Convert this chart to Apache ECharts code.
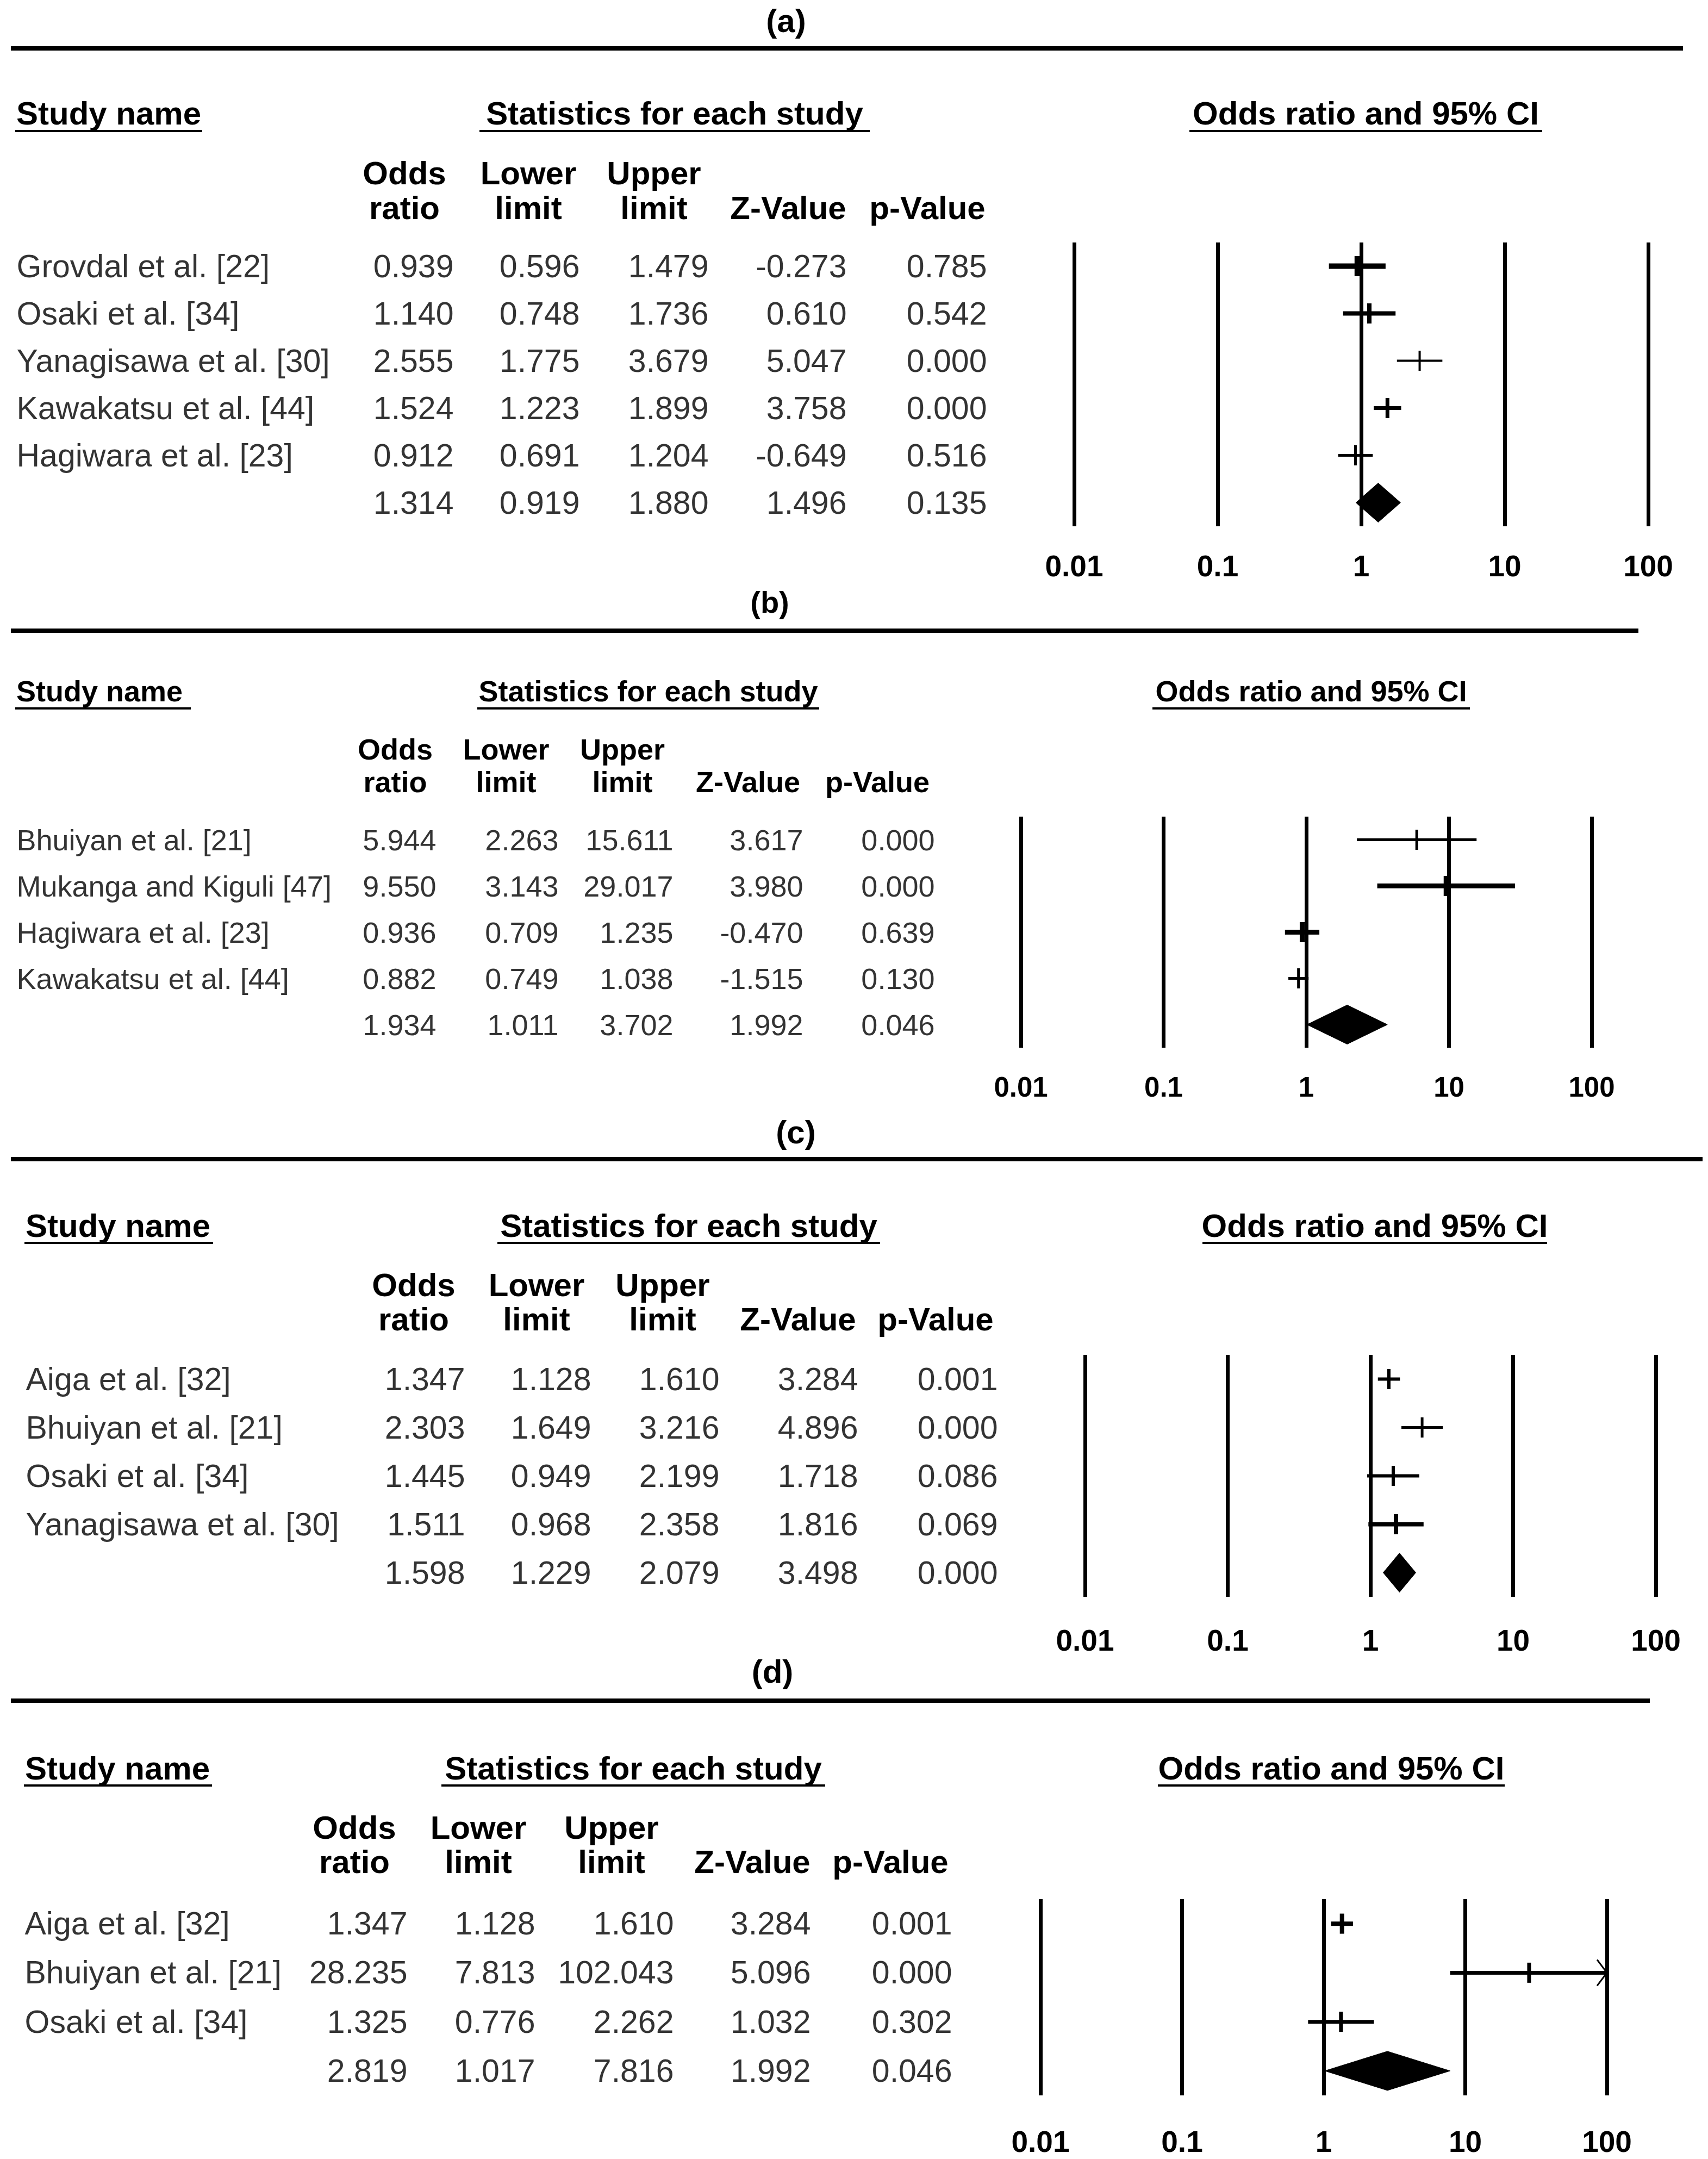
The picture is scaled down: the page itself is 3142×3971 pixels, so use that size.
<!DOCTYPE html>
<html>
<head>
<meta charset="utf-8">
<script src="https://cdn.jsdelivr.net/npm/echarts@6/dist/echarts.min.js"></script>
<style>
html,body{margin:0;padding:0;background:#ffffff;}
#chart{width:3142px;height:3971px;}
</style>
</head>
<body>
<div id="chart"></div>
<script>
// ================= DATA =================
const tickLabels = ['0.01', '0.1', '1', '10', '100'];
const panelTitles = ['(a)', '(b)', '(c)', '(d)'];
const sectionLabels = ['Study name', 'Statistics for each study', 'Odds ratio and 95% CI'];
const headerTop = ['Odds', 'Lower', 'Upper', '', ''];
const headerBottom = ['ratio', 'limit', 'limit', 'Z-Value', 'p-Value'];

// (a)
const studiesA = ['Grovdal et al. [22]', 'Osaki et al. [34]', 'Yanagisawa et al. [30]', 'Kawakatsu et al. [44]', 'Hagiwara et al. [23]', ''];
const oddsA  = [0.939, 1.140, 2.555, 1.524, 0.912, 1.314];
const lowerA = [0.596, 0.748, 1.775, 1.223, 0.691, 0.919];
const upperA = [1.479, 1.736, 3.679, 1.899, 1.204, 1.880];
const zA     = [-0.273, 0.610, 5.047, 3.758, -0.649, 1.496];
const pA     = [0.785, 0.542, 0.000, 0.000, 0.516, 0.135];

// (b)
const studiesB = ['Bhuiyan et al. [21]', 'Mukanga and Kiguli [47]', 'Hagiwara et al. [23]', 'Kawakatsu et al. [44]', ''];
const oddsB  = [5.944, 9.550, 0.936, 0.882, 1.934];
const lowerB = [2.263, 3.143, 0.709, 0.749, 1.011];
const upperB = [15.611, 29.017, 1.235, 1.038, 3.702];
const zB     = [3.617, 3.980, -0.470, -1.515, 1.992];
const pB     = [0.000, 0.000, 0.639, 0.130, 0.046];

// (c)
const studiesC = ['Aiga et al. [32]', 'Bhuiyan et al. [21]', 'Osaki et al. [34]', 'Yanagisawa et al. [30]', ''];
const oddsC  = [1.347, 2.303, 1.445, 1.511, 1.598];
const lowerC = [1.128, 1.649, 0.949, 0.968, 1.229];
const upperC = [1.610, 3.216, 2.199, 2.358, 2.079];
const zC     = [3.284, 4.896, 1.718, 1.816, 3.498];
const pC     = [0.001, 0.000, 0.086, 0.069, 0.000];

// (d)
const studiesD = ['Aiga et al. [32]', 'Bhuiyan et al. [21]', 'Osaki et al. [34]', ''];
const oddsD  = [1.347, 28.235, 1.325, 2.819];
const lowerD = [1.128, 7.813, 0.776, 1.017];
const upperD = [1.610, 102.043, 2.262, 7.816];
const zD     = [3.284, 5.096, 1.032, 1.992];
const pD     = [0.001, 0.000, 0.302, 0.046];

// ================= LAYOUT / STYLE =================
const FONT = "'Liberation Sans', Arial, Helvetica, sans-serif";
const W = 3142;
const TICK_H = 18.5;
const DIAMOND_H = 36;
const layout = [
  {title:[1446, 38], rule:[89, 3096], sec:[208, 241], sn:[28, 372], st:[882, 1600], ci:[2188, 2837],
   hdrY:[318, 382], hdrX:[744, 972, 1203, 1450, 1706], cols:[835, 1067, 1304, 1558, 1816], nameX:30,
   plot:[1976, 3032, 446, 968], margin:45, fs:59, fsB:60, fsAx:55, fsT:60, widths:[10, 8, 4, 7, 5]},
  {title:[1416, 1107], rule:[1160, 3014], sec:[1271, 1303], sn:[28, 351], st:[878, 1507], ci:[2120, 2704],
   hdrY:[1378, 1438], hdrX:[727, 931, 1145, 1376, 1614], cols:[803, 1028, 1239, 1478, 1720], nameX:30,
   plot:[1878, 2928, 1502, 1927], margin:47, fs:54, fsB:54, fsAx:51, fsT:56, widths:[5, 9, 9, 5]},
  {title:[1464, 2082], rule:[2132, 3132], sec:[2254, 2286], sn:[45, 392], st:[915, 1619], ci:[2212, 2846],
   hdrY:[2363, 2426], hdrX:[761, 987, 1219, 1468, 1721], cols:[856, 1088, 1324, 1579, 1836], nameX:47,
   plot:[1996, 3046, 2492, 2937], margin:52, fs:59, fsB:60, fsAx:55, fsT:60, widths:[6, 5, 6, 8]},
  {title:[1421, 3074], rule:[3128, 3035], sec:[3252, 3284], sn:[44, 390], st:[812, 1518], ci:[2130, 2768],
   hdrY:[3361, 3424], hdrX:[652, 880, 1125, 1384, 1638], cols:[750, 985, 1240, 1492, 1752], nameX:45,
   plot:[1914, 2956, 3493, 3854], margin:57, fs:59, fsB:60, fsAx:55, fsT:60, widths:[8, 7, 7]}
];

const panels = [
  {studies:studiesA, odds:oddsA, lower:lowerA, upper:upperA, z:zA, p:pA},
  {studies:studiesB, odds:oddsB, lower:lowerB, upper:upperB, z:zB, p:pB},
  {studies:studiesC, odds:oddsC, lower:lowerC, upper:upperC, z:zC, p:pC},
  {studies:studiesD, odds:oddsD, lower:lowerD, upper:upperD, z:zD, p:pD}
];

const AX_MIN = Number(tickLabels[0]);
const AX_MAX = Number(tickLabels[tickLabels.length - 1]);

// ================= BUILD OPTION =================
const grids = [], xAxes = [], yAxes = [], series = [], graphics = [];

function txt(text, x, y, size, bold, align) {
  return {type:'text', silent:true, style:{
    text:text, x:x, y:y, fill:'#000',
    font:(bold ? 'bold ' : '') + size + 'px ' + FONT,
    fontSize:size, fontWeight:bold ? 'bold' : 'normal', fontFamily:FONT,
    textAlign:align, align:align, textVerticalAlign:'middle', verticalAlign:'middle'
  }};
}
function hbar(x1, x2, y, h) {
  return {type:'rect', silent:true, shape:{x:x1, y:y - h / 2, width:x2 - x1, height:h}, style:{fill:'#000'}};
}

function makeRender(L, n) {
  return function (params, api) {
    const i = params.dataIndex;
    const row = api.value(3);
    const lo = api.value(0), hiRaw = api.value(1), est = api.value(2);
    const hi = Math.min(hiRaw, AX_MAX);
    const pL = api.coord([lo, row]);
    const pH = api.coord([hi, row]);
    const pE = api.coord([est, row]);
    const y = pE[1];
    if (i === n - 1) {
      return {type:'polygon', shape:{points:[[pL[0], y], [pE[0], y - DIAMOND_H], [pH[0], y], [pE[0], y + DIAMOND_H]]},
              style:{fill:'#000', stroke:'#000', lineWidth:1}};
    }
    const w = L.widths[i];
    const children = [
      {type:'line', shape:{x1:pL[0], y1:y, x2:pH[0], y2:y}, style:{stroke:'#000', lineWidth:w, lineCap:'butt'}},
      {type:'line', shape:{x1:pE[0], y1:y - TICK_H, x2:pE[0], y2:y + TICK_H}, style:{stroke:'#000', lineWidth:w, lineCap:'butt'}}
    ];
    if (hiRaw > AX_MAX) {
      children.push({type:'polyline', shape:{points:[[pH[0] - 18, y - 24], [pH[0], y], [pH[0] - 18, y + 24]]},
                     style:{stroke:'#000', lineWidth:3, fill:null}});
    }
    return {type:'group', children:children};
  };
}

panels.forEach(function (P, k) {
  const L = layout[k];
  const n = P.studies.length;
  const rows = P.studies.map(function (_, i) { return String(i); });
  const top = L.plot[2], height = L.plot[3] - L.plot[2];

  // table grid
  const gT = grids.length;
  grids.push({left:0, top:top, width:W, height:height, outerBoundsMode:'none', containLabel:false});
  xAxes.push({type:'value', gridIndex:gT, min:0, max:W, show:false});
  yAxes.push({type:'category', gridIndex:gT, data:rows, inverse:true, show:false});

  // plot grid
  const gP = grids.length;
  grids.push({left:L.plot[0], top:top, width:L.plot[1] - L.plot[0], height:height, outerBoundsMode:'none', containLabel:false});
  xAxes.push({
    type:'log', logBase:10, gridIndex:gP, min:AX_MIN, max:AX_MAX, splitNumber:4,
    axisLine:{show:false}, axisTick:{show:false},
    splitLine:{show:true, lineStyle:{color:'#000', width:7, type:'solid'}},
    axisLabel:{show:true, margin:L.margin, showMinLabel:true, showMaxLabel:true,
      color:'#000', fontFamily:FONT, fontWeight:'bold', fontSize:L.fsAx,
      formatter:function (v) { const idx = Math.round(Math.log10(v)) + 2; return tickLabels[idx] !== undefined ? tickLabels[idx] : ''; }}
  });
  yAxes.push({type:'category', gridIndex:gP, data:rows, inverse:true, show:false});

  const lblBase = {show:true, color:'#000', fontFamily:FONT, fontSize:L.fs, fontWeight:'normal'};

  // study names
  series.push({
    type:'scatter', xAxisIndex:gT, yAxisIndex:gT, symbolSize:1, silent:true,
    itemStyle:{color:'rgba(0,0,0,0)'},
    data:P.studies.map(function (s, i) { return {name:s, value:[L.nameX, i]}; }),
    label:Object.assign({position:'right', distance:0, formatter:'{b}'}, lblBase)
  });
  // numeric columns
  [P.odds, P.lower, P.upper, P.z, P.p].forEach(function (arr, c) {
    series.push({
      type:'scatter', xAxisIndex:gT, yAxisIndex:gT, symbolSize:1, silent:true,
      itemStyle:{color:'rgba(0,0,0,0)'},
      data:arr.map(function (v, i) { return {name:v.toFixed(3), value:[L.cols[c], i]}; }),
      label:Object.assign({position:'left', distance:0, formatter:'{b}'}, lblBase)
    });
  });

  // forest marks
  series.push({
    type:'custom', xAxisIndex:gP, yAxisIndex:gP, silent:true, clip:false,
    encode:{x:[0, 1, 2], y:3},
    data:P.odds.map(function (o, i) { return [P.lower[i], P.upper[i], o, i]; }),
    renderItem:makeRender(L, n)
  });

  // decorations: title, rule, section headers, column headers
  graphics.push(txt(panelTitles[k], L.title[0], L.title[1], L.fsT, true, 'center'));
  graphics.push(hbar(20, L.rule[1], L.rule[0], 8));
  graphics.push(txt(sectionLabels[0], L.sn[0] + 2, L.sec[0], L.fsB, true, 'left'));
  graphics.push(txt(sectionLabels[1], (L.st[0] + L.st[1]) / 2, L.sec[0], L.fsB, true, 'center'));
  graphics.push(txt(sectionLabels[2], (L.ci[0] + L.ci[1]) / 2, L.sec[0], L.fsB, true, 'center'));
  graphics.push(hbar(L.sn[0], L.sn[1], L.sec[1], 4));
  graphics.push(hbar(L.st[0], L.st[1], L.sec[1], 4));
  graphics.push(hbar(L.ci[0], L.ci[1], L.sec[1], 4));
  for (let c = 0; c < 5; c++) {
    if (headerTop[c]) graphics.push(txt(headerTop[c], L.hdrX[c], L.hdrY[0], L.fsB, true, 'center'));
    graphics.push(txt(headerBottom[c], L.hdrX[c], L.hdrY[1], L.fsB, true, 'center'));
  }
});

const chart = echarts.init(document.getElementById('chart'), null, {renderer:'svg', width:W, height:3971});
chart.setOption({
  backgroundColor:'#ffffff',
  animation:false,
  grid:grids,
  xAxis:xAxes,
  yAxis:yAxes,
  series:series,
  graphic:{elements:graphics}
});
</script>
</body>
</html>
